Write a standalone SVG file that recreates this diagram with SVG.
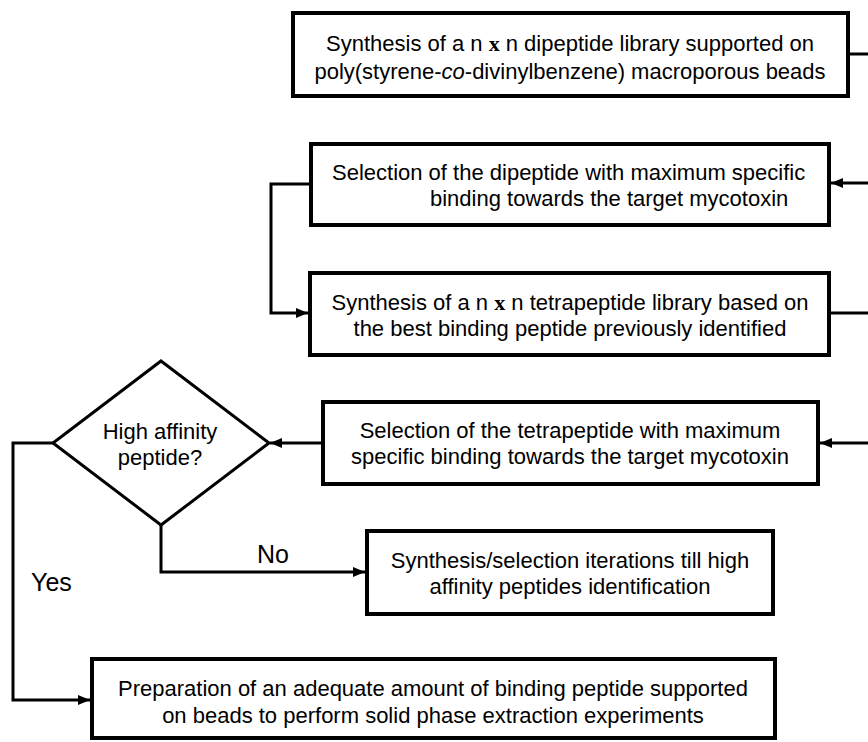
<svg xmlns="http://www.w3.org/2000/svg" width="868" height="742" viewBox="0 0 868 742">
<style>
.box{fill:#fff;stroke:#000;stroke-width:4}
.dia{fill:#fff;stroke:#000;stroke-width:3}
.t{font-family:"Liberation Sans",Arial,sans-serif;font-size:22px;fill:#000}
.c{text-anchor:middle}
.x{font-family:"Liberation Serif","Times New Roman",serif;font-weight:bold}
.lbl{font-size:25px}
.ln{fill:none;stroke:#000;stroke-width:3}
</style>
<defs>
<marker id="ah" markerWidth="12" markerHeight="10" refX="12" refY="5" orient="auto" markerUnits="userSpaceOnUse">
<path d="M0,0 L12,5 L0,10 Z" fill="#000"/>
</marker>
</defs>
<rect width="868" height="742" fill="#fff"/>
<g id="connectors">
<path class="ln" d="M848,54 H868"/>
<path class="ln" d="M868,183 H831" marker-end="url(#ah)"/>
<path class="ln" d="M311,184 H271 V313 H308" marker-end="url(#ah)"/>
<path class="ln" d="M829,313 H868"/>
<path class="ln" d="M868,443 H820" marker-end="url(#ah)"/>
<path class="ln" d="M323,443 H270" marker-end="url(#ah)"/>
<path class="ln" d="M161,525 V572 H365" marker-end="url(#ah)"/>
<path class="ln" d="M53,443 H13 V700 H90" marker-end="url(#ah)"/>
<text class="t lbl" x="257" y="563">No</text>
<text class="t lbl" x="31" y="591">Yes</text>
</g>
<g id="n1">
<rect class="box" x="293" y="13" width="555" height="83"/>
<text class="t c" x="570" y="51">Synthesis of a n <tspan class="x">x</tspan> n dipeptide library supported on</text>
<text class="t c" x="570" y="79">poly(styrene-<tspan font-style="italic">co</tspan>-divinylbenzene) macroporous beads</text>
</g>
<g id="n2">
<rect class="box" x="311" y="144" width="518" height="81"/>
<text class="t" x="332" y="180">Selection of the dipeptide with maximum specific</text>
<text class="t" x="430" y="206">binding towards the target mycotoxin</text>
</g>
<g id="n3">
<rect class="box" x="310" y="273" width="519" height="82"/>
<text class="t c" x="570" y="310">Synthesis of a n <tspan class="x">x</tspan> n tetrapeptide library based on</text>
<text class="t c" x="570" y="336">the best binding peptide previously identified</text>
</g>
<g id="n4">
<rect class="box" x="323" y="402" width="495" height="82"/>
<text class="t c" x="570" y="438">Selection of the tetrapeptide with maximum</text>
<text class="t c" x="570" y="464">specific binding towards the target mycotoxin</text>
</g>
<g id="d1">
<polygon class="dia" points="161,361 269,443 161,525 53,443"/>
<text class="t c" x="160" y="439">High affinity</text>
<text class="t c" x="160" y="465">peptide?</text>
</g>
<g id="n6">
<rect class="box" x="367" y="531" width="406" height="83"/>
<text class="t c" x="570" y="568">Synthesis/selection iterations till high</text>
<text class="t c" x="570" y="594">affinity peptides identification</text>
</g>
<g id="n5">
<rect class="box" x="92" y="659" width="683" height="79"/>
<text class="t c" x="433" y="696">Preparation of an adequate amount of binding peptide supported</text>
<text class="t c" x="433" y="723">on beads to perform solid phase extraction experiments</text>
</g>
</svg>
